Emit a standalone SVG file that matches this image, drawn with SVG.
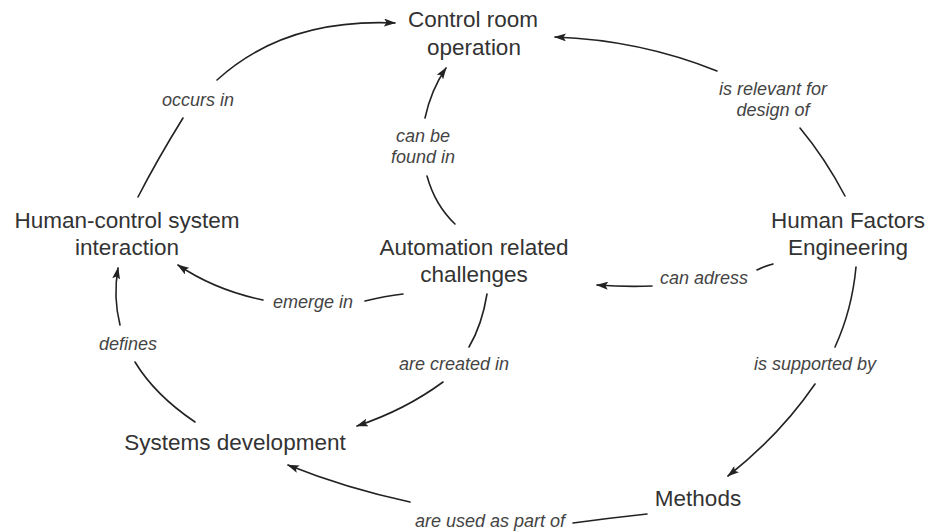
<svg xmlns="http://www.w3.org/2000/svg" width="935" height="532" viewBox="0 0 935 532">
  <defs>
    <style>
      .node { font-family: "Liberation Sans", Arial, Helvetica, sans-serif; font-size: 22.5px; fill: #333333; text-anchor: middle; }
      .label { font-family: "Liberation Sans", Arial, Helvetica, sans-serif; font-size: 18px; font-style: italic; fill: #444444; text-anchor: middle; }
      .link { fill: none; stroke: #222222; stroke-width: 1.6; stroke-linecap: round; }
      .arrow { marker-end: url(#head); }
    </style>
    <marker id="head" markerUnits="userSpaceOnUse" viewBox="0 0 12 8" refX="11" refY="4" markerWidth="12" markerHeight="8" orient="auto">
      <path d="M0,0 L12,4 L0,8 L2.5,4 Z" fill="#222222"/>
    </marker>
  </defs>
  <rect width="935" height="532" fill="#ffffff"/>

  <!-- connectors: each link is split around its italic label -->
  <g id="connectors">
    <g id="link-occurs-in">
      <path class="link" d="M138,197 Q157,160 183,118"/>
      <path class="link arrow" d="M217,80 Q285,18 395,23"/>
      <text class="label" x="198" y="106">occurs in</text>
    </g>
    <g id="link-can-be-found-in">
      <path class="link" d="M455,224 Q435,205 427,176"/>
      <path class="link arrow" d="M425,118 Q431,90 446,68"/>
      <text class="label" x="423" y="142">can be</text>
      <text class="label" x="423" y="163">found in</text>
    </g>
    <g id="link-is-relevant-for">
      <path class="link" d="M845,196 Q825,158 800,128"/>
      <path class="link arrow" d="M717,71 Q640,40 555,37"/>
      <text class="label" x="773" y="95">is relevant for</text>
      <text class="label" x="773" y="116">design of</text>
    </g>
    <g id="link-emerge-in">
      <path class="link" d="M403,294 Q385,296 365,301"/>
      <path class="link arrow" d="M263,300 Q215,290 178,265"/>
      <text class="label" x="313" y="308">emerge in</text>
    </g>
    <g id="link-defines">
      <path class="link" d="M195,422 Q155,395 135,362"/>
      <path class="link arrow" d="M120,325 Q113,297 118,268"/>
      <text class="label" x="128" y="350">defines</text>
    </g>
    <g id="link-are-created-in">
      <path class="link" d="M487,294 Q482,325 469,347"/>
      <path class="link arrow" d="M443,382 Q405,410 357,426"/>
      <text class="label" x="454" y="370">are created in</text>
    </g>
    <g id="link-can-adress">
      <path class="link" d="M773,264 Q765,266 757,270"/>
      <path class="link arrow" d="M652,286 Q625,287 597,285"/>
      <text class="label" x="704" y="284">can adress</text>
    </g>
    <g id="link-is-supported-by">
      <path class="link" d="M856,267 Q852,310 835,347"/>
      <path class="link arrow" d="M815,384 Q780,435 728,476"/>
      <text class="label" x="815" y="370">is supported by</text>
    </g>
    <g id="link-are-used-as-part-of">
      <path class="link" d="M647,514 Q610,518 573,523"/>
      <path class="link arrow" d="M410,502 Q345,488 288,465"/>
      <text class="label" x="490" y="527">are used as part of</text>
    </g>
  </g>

  <!-- concepts -->
  <g id="control-room-operation">
    <text class="node" x="473" y="27">Control room</text>
    <text class="node" x="474" y="55">operation</text>
  </g>
  <g id="human-control-system-interaction">
    <text class="node" x="127" y="228">Human-control system</text>
    <text class="node" x="127" y="255">interaction</text>
  </g>
  <g id="automation-related-challenges">
    <text class="node" x="474" y="255">Automation related</text>
    <text class="node" x="474" y="282">challenges</text>
  </g>
  <g id="human-factors-engineering">
    <text class="node" x="848" y="228">Human Factors</text>
    <text class="node" x="848" y="255">Engineering</text>
  </g>
  <g id="systems-development">
    <text class="node" x="235" y="450">Systems development</text>
  </g>
  <g id="methods">
    <text class="node" x="698" y="506">Methods</text>
  </g>
</svg>
